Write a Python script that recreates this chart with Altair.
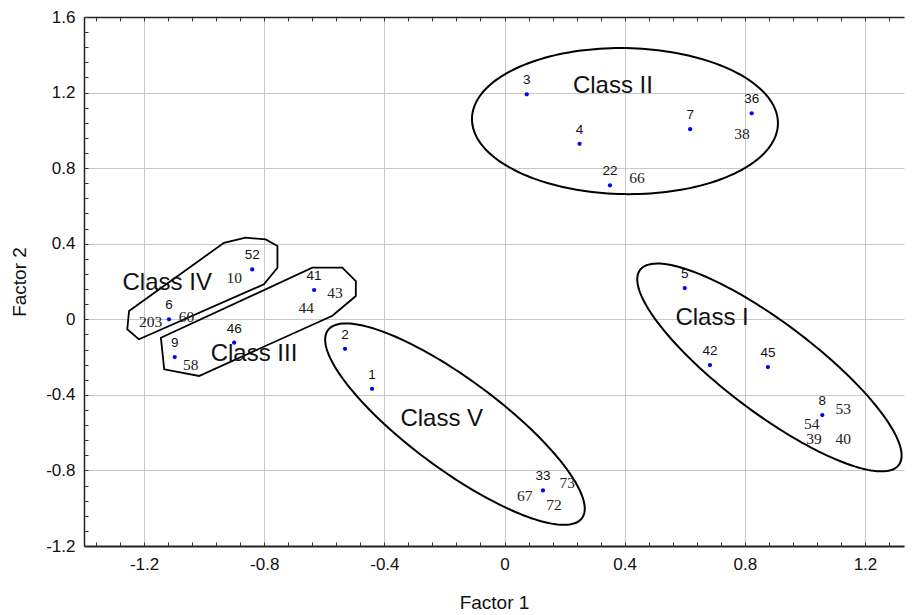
import math
import altair as alt
import pandas as pd

# ---------------- data ----------------
# samples drawn as blue dots (label above the dot)
pt_id = ["3", "4", "22", "7", "36", "5", "42", "45", "8", "2", "1", "33", "52", "6", "41", "46", "9"]
pt_x = [0.074, 0.250, 0.351, 0.618, 0.823, 0.600, 0.684, 0.877, 1.058, -0.531, -0.441, 0.128,
        -0.840, -1.117, -0.634, -0.900, -1.098]
pt_y = [1.191, 0.929, 0.709, 1.006, 1.090, 0.165, -0.242, -0.253, -0.507, -0.156, -0.368, -0.906,
        0.264, 0.000, 0.155, -0.124, -0.200]

# further sample numbers written next to the dots (serif)
ex_id = ["38", "66", "10", "203", "60", "43", "44", "58", "53", "54", "39", "40", "67", "72", "73"]
ex_x = [0.791, 0.441, -0.900, -1.178, -1.059, -0.564, -0.660, -1.045, 1.128, 1.023, 1.030, 1.128,
        0.067, 0.165, 0.209]
ex_y = [0.982, 0.749, 0.218, -0.013, 0.013, 0.140, 0.058, -0.242, -0.477, -0.553, -0.636, -0.634,
        -0.936, -0.983, -0.865]

# class captions
cls_name = ["Class I", "Class II", "Class III", "Class IV", "Class V"]
cls_x = [0.691, 0.361, -0.834, -1.123, -0.209]
cls_y = [0.007, 1.235, -0.186, 0.193, -0.530]

# class ellipses: centre (data units), semi-axes (screen px), rotation (deg, clockwise on screen)
ell_name = ["Class I", "Class II", "Class V"]
ell_cx = [0.882, 0.401, -0.165]
ell_cy = [-0.255, 1.049, -0.555]
ell_a = [162, 153, 158]
ell_b = [45, 73, 45]
ell_rot = [37, 1, 36.5]

# hand-drawn outlines of Class III and Class IV
poly3_x = [-1.144, -0.640, -0.540, -0.495, -0.495, -0.573, -1.017, -1.133]
poly3_y = [-0.098, 0.273, 0.273, 0.202, 0.123, 0.019, -0.300, -0.265]
poly4_x = [-1.250, -0.934, -0.862, -0.795, -0.756, -0.756, -0.801, -1.217, -1.256]
poly4_y = [0.044, 0.405, 0.432, 0.423, 0.388, 0.273, 0.185, -0.106, -0.053]

# axes
x_domain = [-1.4, 1.33]
y_domain = [-1.2, 1.6]
x_major = [-1.2, -0.8, -0.4, 0, 0.4, 0.8, 1.2]
y_major = [-1.2, -0.8, -0.4, 0, 0.4, 0.8, 1.2, 1.6]
x_minor = [round(-1.36 + 0.08 * i, 2) for i in range(34)]
y_minor = [round(-1.2 + 0.08 * i, 2) for i in range(36)]

# ---------------- layout ----------------
W, H = 820, 529
kx = W / (x_domain[1] - x_domain[0])
ky = H / (y_domain[1] - y_domain[0])

SANS = "Liberation Sans"
SERIF = "Liberation Serif"

pts = pd.DataFrame({"id": pt_id, "x": pt_x, "y": pt_y})
ext = pd.DataFrame({"id": ex_id, "x": ex_x, "y": ex_y})
cls = pd.DataFrame({"name": cls_name, "x": cls_x, "y": cls_y})

rows = []
for n, cx, cy, a, b, r in zip(ell_name, ell_cx, ell_cy, ell_a, ell_b, ell_rot):
    th = math.radians(r)
    for i in range(181):
        t = 2 * math.pi * i / 180
        dx = a * math.cos(t) * math.cos(th) - b * math.sin(t) * math.sin(th)
        dy = a * math.cos(t) * math.sin(th) + b * math.sin(t) * math.cos(th)
        rows.append({"shape": n, "i": i, "x": cx + dx / kx, "y": cy - dy / ky})
ell = pd.DataFrame(rows)

prow = []
for n, xs_, ys_ in (("III", poly3_x, poly3_y), ("IV", poly4_x, poly4_y)):
    for i, (px, py) in enumerate(zip(xs_, ys_)):
        prow.append({"shape": n, "i": i, "x": px, "y": py})
poly = pd.DataFrame(prow)

xs = alt.Scale(domain=x_domain, nice=False, zero=False)
ys = alt.Scale(domain=y_domain, nice=False, zero=False)

x_axis = alt.Axis(values=x_major, grid=True, gridColor="#c8c8c8", gridWidth=1, ticks=False, tickSize=0,
                  domain=True, domainColor="#222222", domainWidth=2, labelPadding=10,
                  labelFont=SANS, labelFontSize=17, labelColor="#111111", labelExpr="'' + datum.value",
                  title="Factor 1", titleFont=SANS, titleFontSize=19, titleFontWeight="normal",
                  titleColor="#111111", titlePadding=21)
y_axis = alt.Axis(values=y_major, grid=True, gridColor="#c8c8c8", gridWidth=1, ticks=False, tickSize=0,
                  domain=True, domainColor="#222222", domainWidth=1.5, labelPadding=9,
                  labelFont=SANS, labelFontSize=17, labelColor="#111111", labelExpr="'' + datum.value",
                  title="Factor 2", titleFont=SANS, titleFontSize=19, titleFontWeight="normal",
                  titleColor="#111111", titlePadding=16)

X = alt.X("x:Q", scale=xs, axis=x_axis)
Y = alt.Y("y:Q", scale=ys, axis=y_axis)

ellipses = alt.Chart(ell).mark_line(color="black", strokeWidth=2).encode(
    x=X, y=Y, order="i:Q", detail="shape:N")
outlines = alt.Chart(poly).mark_line(color="black", strokeWidth=1.8, interpolate="linear-closed").encode(
    x=X, y=Y, order="i:Q", detail="shape:N")
dots = alt.Chart(pts).mark_circle(color="#0000ff", size=18, opacity=1).encode(x=X, y=Y)
dot_labels = alt.Chart(pts).mark_text(font=SANS, fontSize=13.5, color="#111111", dy=-14,
                                      baseline="middle").encode(x=X, y=Y, text="id:N")
extra_labels = alt.Chart(ext).mark_text(font=SERIF, fontSize=15.5, color="#222222",
                                        baseline="middle").encode(x=X, y=Y, text="id:N")
class_labels = alt.Chart(cls).mark_text(font=SANS, fontSize=24, color="#111111",
                                        baseline="middle").encode(x=X, y=Y, text="name:N")

main = alt.layer(ellipses, outlines, dots, dot_labels, extra_labels, class_labels)

# inward-pointing minor ticks on the frame (bottom + left), and top border with ticks
tick_bl = alt.Chart(pts).mark_point(opacity=0).encode(
    x=alt.X("x:Q", scale=xs, axis=alt.Axis(orient="top", offset=-H, values=x_minor, labels=False,
                                           tickSize=4, tickColor="#333333", domain=False, grid=False,
                                           title=None)),
    y=alt.Y("y:Q", scale=ys, axis=alt.Axis(orient="right", offset=-W, values=y_minor, labels=False,
                                           tickSize=4, tickColor="#333333", domain=False, grid=False,
                                           title=None)))
tick_top = alt.Chart(pts).mark_point(opacity=0).encode(
    x=alt.X("x:Q", scale=xs, axis=alt.Axis(orient="bottom", offset=-H, values=x_minor, labels=False,
                                           tickSize=4, tickColor="#333333", domain=True,
                                           domainColor="#222222", domainWidth=1.5, grid=False,
                                           title=None)),
    y=alt.Y("y:Q", scale=ys, axis=None))

chart = alt.layer(main, tick_bl, tick_top).resolve_axis(x="independent", y="independent").properties(
    width=W, height=H, padding={"left": 2, "top": 0, "right": 0, "bottom": 0}
).configure_view(stroke=None)

chart.save("out.html", embed_options={"renderer": "svg", "actions": False})
